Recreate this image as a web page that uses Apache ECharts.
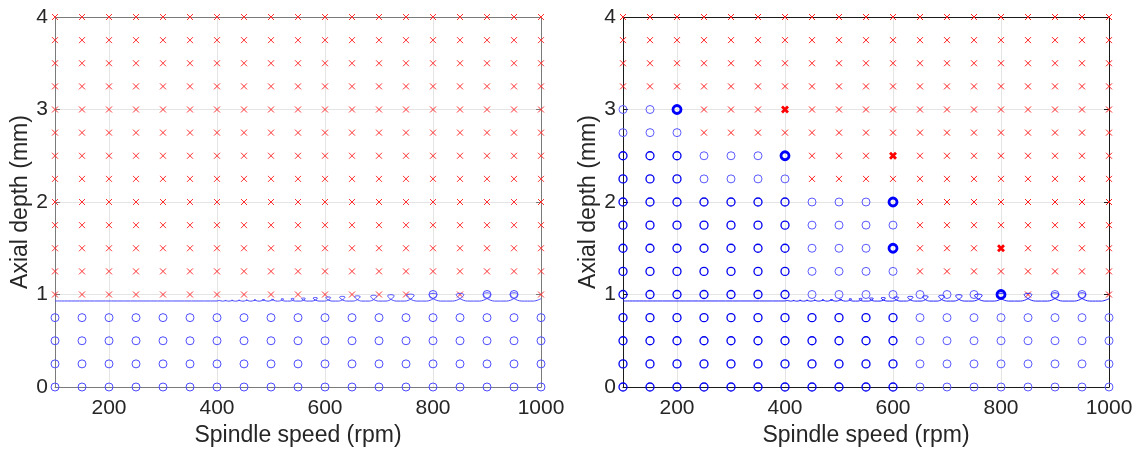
<!DOCTYPE html>
<html><head><meta charset="utf-8">
<script src="https://cdn.jsdelivr.net/npm/echarts@6/dist/echarts.min.js"></script>
<style>html,body{margin:0;padding:0;background:#fff}#c{width:1136px;height:452px}</style>
</head><body><div id="c"></div>
<script>
// Grid of test points (spindle speed columns, axial depth rows from top to bottom)
const speeds = [100,150,200,250,300,350,400,450,500,550,600,650,700,750,800,850,900,950,1000];
const depths = [4,3.75,3.5,3.25,3,2.75,2.5,2.25,2,1.75,1.5,1.25,1,0.75,0.5,0.25,0];
const xTicks = [200,400,600,800,1000];
const yTicks = [0,1,2,3,4];

// x = unstable, o = stable
const leftMap = [
  'xxxxxxxxxxxxxxxxxxx',
  'xxxxxxxxxxxxxxxxxxx',
  'xxxxxxxxxxxxxxxxxxx',
  'xxxxxxxxxxxxxxxxxxx',
  'xxxxxxxxxxxxxxxxxxx',
  'xxxxxxxxxxxxxxxxxxx',
  'xxxxxxxxxxxxxxxxxxx',
  'xxxxxxxxxxxxxxxxxxx',
  'xxxxxxxxxxxxxxxxxxx',
  'xxxxxxxxxxxxxxxxxxx',
  'xxxxxxxxxxxxxxxxxxx',
  'xxxxxxxxxxxxxxxxxxx',
  'xxxxxxxxxxxxxxoxoox',
  'ooooooooooooooooooo',
  'ooooooooooooooooooo',
  'ooooooooooooooooooo',
  'ooooooooooooooooooo'
];
// o = stable (light), O = stable (dark), B = highlighted stable, x = unstable, X = highlighted unstable
const rightMap = [
  'xxxxxxxxxxxxxxxxxxx',
  'xxxxxxxxxxxxxxxxxxx',
  'xxxxxxxxxxxxxxxxxxx',
  'xxxxxxxxxxxxxxxxxxx',
  'ooBxxxXxxxxxxxxxxxx',
  'oooxxxxxxxxxxxxxxxx',
  'OOOoooBxxxXxxxxxxxx',
  'OOOooooxxxxxxxxxxxx',
  'OOOOOOOoooBxxxxxxxx',
  'OOOOOOOooooxxxxxxxx',
  'OOOOOOOoooBxxxXxxxx',
  'OOOOOOOooooxxxxxxxx',
  'OOOOOOOoooooooBxoox',
  'OOOOOOOOOOOoooooooo',
  'OOOOOOOOOOOoooooooo',
  'OOOOOOOOOOOoooooooo',
  'OOOOOOOOOOOoooooooo'
];

// Stability lobe boundary (speed rpm, depth mm)
const lobeCurve = [
  [100,0.930],[400,0.930],
  [404,0.935],[410.5,0.928],[417,0.936],
  [415,0.936],[422,0.928],[429,0.937],
  [427,0.937],[434.5,0.928],[442,0.938],
  [440,0.938],[448,0.928],[456,0.940],
  [454,0.940],[462.5,0.928],[471.5,0.942],
  [468.5,0.942],[478,0.928],[488,0.944],
  [484,0.944],[494.5,0.928],[505,0.947],
  [501,0.947],[512,0.928],[523.5,0.950],[521,0.955],
  [518.5,0.950],[526,0.929],[535,0.929],[543,0.953],[540,0.958],
  [537,0.953],[545,0.929],[555,0.929],[563.5,0.957],[560,0.962],
  [556.5,0.957],[566,0.929],[576,0.929],[586,0.962],[582,0.968],
  [578,0.962],[589,0.929],[599,0.929],[610.5,0.967],[606,0.974],
  [601.5,0.967],[613,0.929],[625,0.929],[637,0.972],[632,0.980],
  [627,0.972],[640,0.929],[652,0.929],[665,0.977],[660,0.986],
  [655,0.977],[668,0.929],[682,0.929],[695.5,0.982],[690,0.992],
  [684.5,0.982],[699,0.929],[713,0.929],[728,0.987],[722,0.998],
  [716,0.987],[732,0.929],[748,0.929],[765,0.992],[758,1.004],
  [751,0.992],[770,0.929],[788,0.929],[807,1.0],[800,1.013],
  [793,1.0],[814,0.929],[836,0.929],[857,1.0],[850,1.013],
  [843,1.0],[864,0.929],[886,0.929],[907,1.005],[900,1.018],
  [893,1.005],[914,0.929],[936,0.929],[957,1.005],[950,1.018],
  [943,1.005],[964,0.929],[986,0.929],[1000,0.955]
];

function pick(map, code) {
  const out = [];
  map.forEach((row, i) => {
    for (let j = 0; j < row.length; j++) if (row[j] === code) out.push([speeds[j], depths[i]]);
  });
  return out;
}

const FONT = 'Arial, "Liberation Sans", Helvetica, sans-serif';
const TXT = '#262626';
const GRIDC = '#e4e4e4';
const CROSS = 'path://M0,0L10,10M10,0L0,10';

function axesFor(gi, axisColor) {
  const xb = {
    type: 'value', gridIndex: gi, min: 100, max: 1000, position: 'bottom',
    name: 'Spindle speed (rpm)', nameLocation: 'middle', nameGap: 37,
    nameTextStyle: { fontFamily: FONT, fontSize: 23, color: TXT },
    axisLine: { show: true, onZero: false, lineStyle: { color: axisColor, width: 1 } },
    axisTick: { show: true, inside: true, length: 5, customValues: xTicks, lineStyle: { color: axisColor } },
    axisLabel: { show: true, customValues: xTicks, margin: 11, fontFamily: FONT, fontSize: 21, color: TXT,
      formatter: v => String(v) },
    splitLine: { show: false }
  };
  const xt = {
    type: 'value', gridIndex: gi, min: 100, max: 1000, position: 'top',
    axisLine: { show: true, onZero: false, lineStyle: { color: axisColor, width: 1 } },
    axisTick: { show: true, inside: true, length: 5, customValues: xTicks, lineStyle: { color: axisColor } },
    axisLabel: { show: false }, splitLine: { show: false }
  };
  const yl = {
    type: 'value', gridIndex: gi, min: 0, max: 4, interval: 1, position: 'left',
    name: 'Axial depth (mm)', nameLocation: 'middle', nameGap: 21,
    nameTextStyle: { fontFamily: FONT, fontSize: 23, color: TXT },
    axisLine: { show: true, onZero: false, lineStyle: { color: axisColor, width: 1 } },
    axisTick: { show: true, inside: true, length: 5, lineStyle: { color: axisColor } },
    axisLabel: { show: true, margin: 7, fontFamily: FONT, fontSize: 21, color: TXT },
    splitLine: { show: true, lineStyle: { color: GRIDC, width: 1 } }
  };
  const yr = {
    type: 'value', gridIndex: gi, min: 0, max: 4, interval: 1, position: 'right',
    axisLine: { show: true, onZero: false, lineStyle: { color: axisColor, width: 1 } },
    axisTick: { show: true, inside: true, length: 5, lineStyle: { color: axisColor } },
    axisLabel: { show: false }, splitLine: { show: false }
  };
  return { x: [xb, xt], y: [yl, yr] };
}

const A0 = axesFor(0, '#7a7a7a');
const A1 = axesFor(1, '#1a1a1a');

function gridLines(xi, yi) {
  return { type: 'scatter', xAxisIndex: xi, yAxisIndex: yi, data: [], z: 1, silent: true,
    markLine: { silent: true, z: 1, animation: false, symbol: ['none', 'none'], label: { show: false },
      emphasis: { disabled: true },
      lineStyle: { color: GRIDC, width: 1, type: 'solid' },
      data: xTicks.filter(v => v < 1000).map(v => ({ xAxis: v })) } };
}
function circles(data, color, size, bw, xi, yi, z) {
  return { type: 'scatter', xAxisIndex: xi, yAxisIndex: yi, data, symbol: 'circle', symbolSize: size, clip: false, z: z || 3,
    itemStyle: { color: 'rgba(0,0,0,0)', borderColor: color, borderWidth: bw, opacity: 1 }, silent: true };
}
function crosses(data, color, size, bw, xi, yi, z) {
  return { type: 'scatter', xAxisIndex: xi, yAxisIndex: yi, data, symbol: CROSS, symbolSize: size, clip: false, z: z || 3,
    itemStyle: { color: 'rgba(0,0,0,0)', borderColor: color, borderWidth: bw, opacity: 1 }, silent: true };
}

const chart = echarts.init(document.getElementById('c'), null, { renderer: 'canvas' });
chart.setOption({
  animation: false,
  backgroundColor: '#ffffff',
  grid: [
    { left: 55, top: 17, width: 486, height: 370 },
    { left: 623, top: 17, width: 486, height: 370 }
  ],
  xAxis: [A0.x[0], A0.x[1], A1.x[0], A1.x[1]],
  yAxis: [A0.y[0], A0.y[1], A1.y[0], A1.y[1]],
  series: [
    gridLines(0, 0),
    gridLines(2, 2),
    // left plot
    { type: 'line', xAxisIndex: 0, yAxisIndex: 0, data: lobeCurve, showSymbol: false, smooth: 0.4, z: 4,
      lineStyle: { color: '#4a4aff', width: 1 }, silent: true },
    circles(pick(leftMap, 'o'), '#4d4dff', 8, 1, 0, 0),
    crosses(pick(leftMap, 'x'), '#ff3030', 6, 1, 0, 0),
    // right plot
    { type: 'line', xAxisIndex: 2, yAxisIndex: 2, data: lobeCurve, showSymbol: false, smooth: 0.4, z: 4,
      lineStyle: { color: '#2525ff', width: 1 }, silent: true },
    circles(pick(rightMap, 'o'), '#5a5aff', 8, 1, 2, 2),
    circles(pick(rightMap, 'O'), '#0000f0', 8, 1.3, 2, 2),
    circles(pick(rightMap, 'B'), '#0000ff', 8, 2.8, 2, 2, 5),
    crosses(pick(rightMap, 'x'), '#ff2020', 6, 1, 2, 2),
    crosses(pick(rightMap, 'X'), '#ff0000', 6, 2.8, 2, 2, 5)
  ]
});
</script>
</body></html>
